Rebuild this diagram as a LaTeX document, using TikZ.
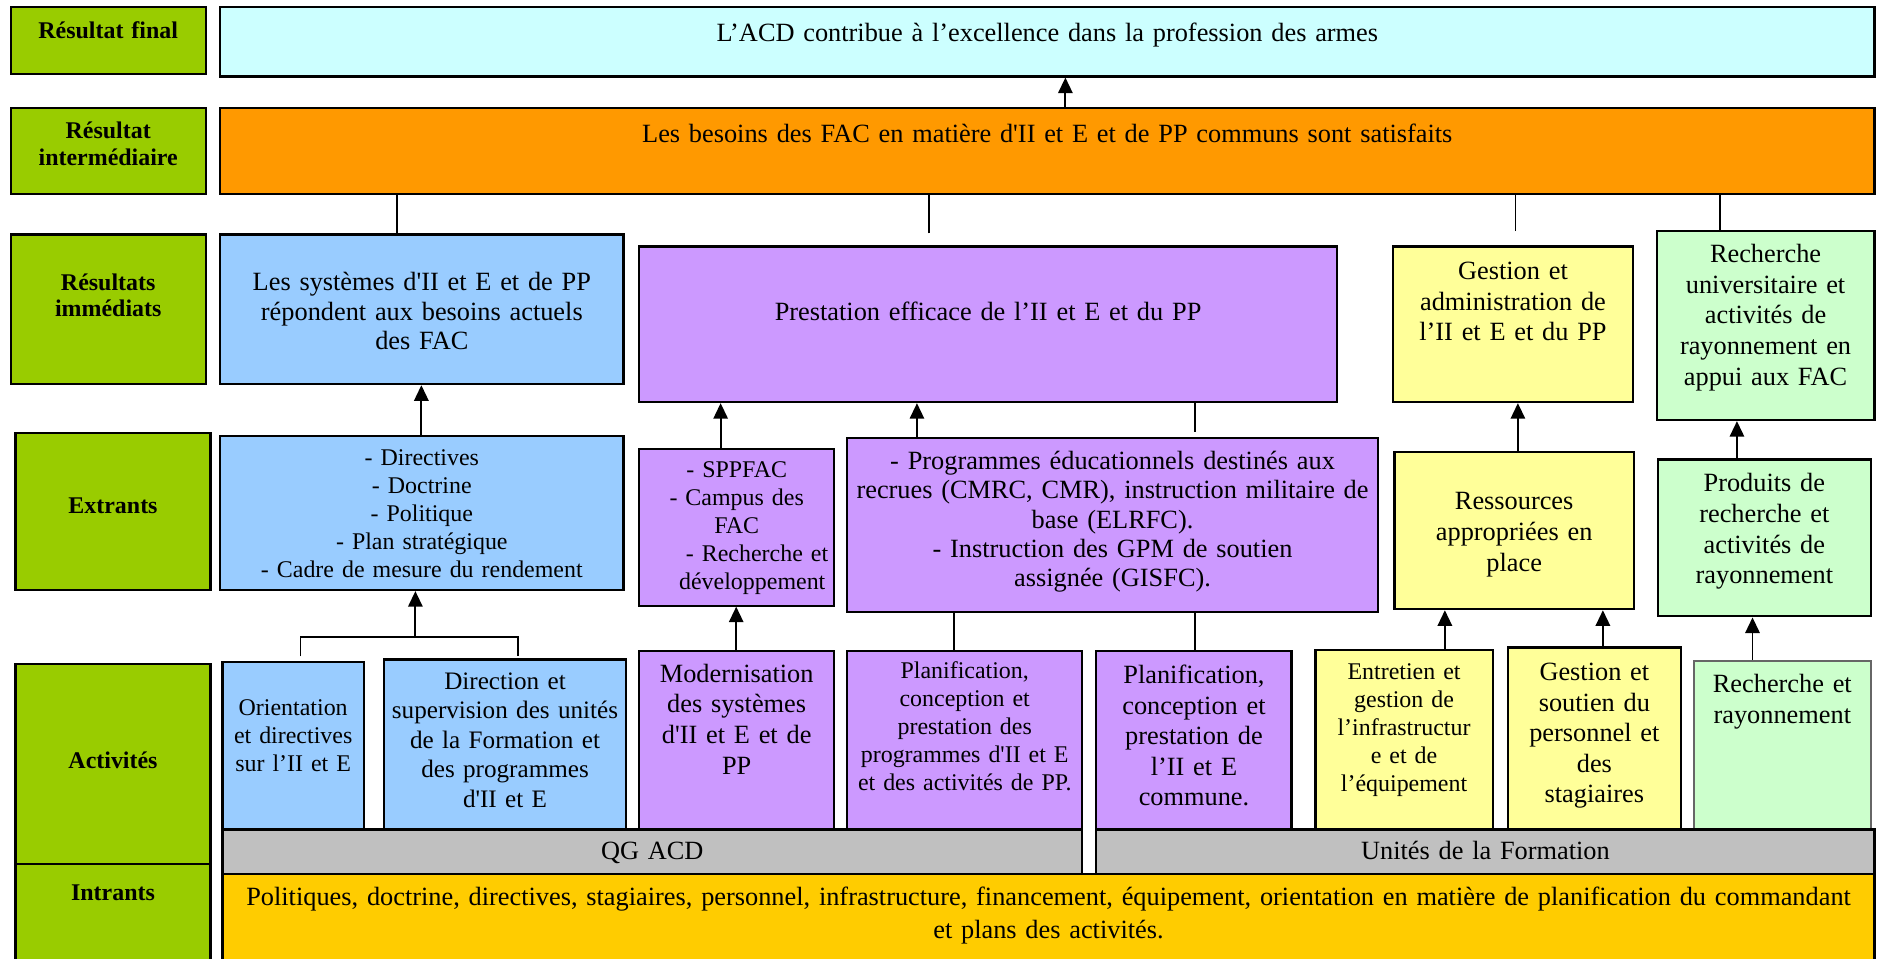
\documentclass[tikz,border=0pt]{standalone}
\usepackage{fontspec}
\setmainfont{Liberation Serif}
\usepackage{xcolor}
\usetikzlibrary{arrows.meta, positioning}

\definecolor{tagcol}{HTML}{99CC00}
\definecolor{finalcol}{HTML}{CCFFFF}
\definecolor{intercol}{HTML}{FF9900}
\definecolor{bluecol}{HTML}{99CCFF}
\definecolor{purplecol}{HTML}{CC99FF}
\definecolor{yellowcol}{HTML}{FFFF99}
\definecolor{greencol}{HTML}{CCFFCC}
\definecolor{barcol}{HTML}{C0C0C0}
\definecolor{inputcol}{HTML}{FFCC00}

\newcommand{\ap}{\textquotesingle}

\begin{document}
\begin{tikzpicture}[x=0.5pt, y=-0.5pt,
    box/.style={
        draw, line width=0.9pt, anchor=north west, inner xsep=0pt, inner ysep=0pt,
        align=center
    },
    tag/.style={box, fill=tagcol, text width=81.5pt, font=\bfseries\fontsize{10}{11}\selectfont},
    bigtxt/.style={font=\fontsize{11}{12.8}\selectfont},
    midtxt/.style={font=\fontsize{11}{12.3}\selectfont},
    smalltxt/.style={font=\fontsize{10}{11.7}\selectfont},
    link/.style={line width=0.8pt},
    arrow/.style={link, -{Triangle[length=6.5pt, width=6pt]}}
]
\useasboundingbox (0,0) rectangle (1568,801);

% Row labels
\node[tag, text height=13pt, text depth=15pt] (tfinal) at (8,5) {Résultat final};
\node[tag, text height=13pt, text depth=23pt] (tinter) at (8,89) {Résultat\\intermédiaire};
\node[tag, text height=23.25pt, text depth=39.25pt] (timm) at (8,195) {Résultats\\immédiats};
\node[tag, text height=33.5pt, text depth=32pt] (text) at (12,361) {Extrants};
\node[tag, text height=43.5pt, text depth=40pt] (tact) at (12,554) {Activités};
\node[tag, text height=15pt, text depth=27pt] (tin) at (12,721) {Intrants};

% Results
\node[box, bigtxt, fill=finalcol, text width=691pt, text height=14.5pt, text depth=14.5pt]
    (final) at (183,5) {L’ACD contribue à l’excellence dans la profession des armes};
\node[box, bigtxt, fill=intercol, text width=691pt, text height=14.5pt, text depth=21.5pt]
    (inter) at (183,89) {Les besoins des FAC en matière d\ap II et E et de PP communs sont satisfaits};

% Immediate results
\node[box, midtxt, fill=bluecol, text width=168.5pt, text height=23.5pt, text depth=39pt]
    (sys) at (183,195) {Les systèmes d\ap II et E et de PP\\répondent aux besoins actuels\\des FAC};
\node[box, bigtxt, fill=purplecol, text width=291.5pt, text height=31pt, text depth=34pt]
    (prest) at (533,205) {Prestation efficace de l’II et E et du PP};
\node[box, bigtxt, fill=yellowcol, text width=100pt, text height=13.75pt, text depth=51.25pt]
    (admin) at (1163,205) {Gestion et\\administration de\\l’II et E et du PP};
\node[box, bigtxt, fill=greencol, text width=91pt, text height=13.25pt, text depth=65.75pt]
    (univ) at (1383,192) {Recherche\\universitaire et\\activités de\\rayonnement en\\appui aux FAC};

% Outputs
\node[box, smalltxt, fill=bluecol, text width=168.5pt, text height=12.5pt, text depth=52pt]
    (dir) at (183,363) {- Directives\\- Doctrine\\- Politique\\- Plan stratégique\\- Cadre de mesure du rendement};
\node[box, smalltxt, fill=purplecol, text width=81.5pt, text height=12pt, text depth=53.5pt]
    (spp) at (533,374) {- SPPFAC\\- Campus des\\FAC\\\hspace*{17pt}- Recherche et\\\hspace*{13pt}développement};
\node[box, midtxt, fill=purplecol, text width=221.5pt, text height=13pt, text depth=59.5pt]
    (prog) at (707,365) {- Programmes éducationnels destinés aux\\recrues (CMRC, CMR), instruction militaire de\\base (ELRFC).\\- Instruction des GPM de soutien\\assignée (GISFC).};
\node[box, bigtxt, fill=yellowcol, text width=100pt, text height=24pt, text depth=41.5pt]
    (res) at (1164,377) {Ressources\\appropriées en\\place};
\node[box, bigtxt, fill=greencol, text width=89pt, text height=13.5pt, text depth=52pt]
    (prod) at (1384,383) {Produits de\\recherche et\\activités de\\rayonnement};

% Activities
\node[box, smalltxt, fill=bluecol, text width=59pt, text height=22.5pt, text depth=47.5pt]
    (orient) at (185,552) {Orientation\\et directives\\sur l’II et E};
\node[box, font=\fontsize{10.5}{12.3}\selectfont, fill=bluecol, text width=101pt, text height=12.5pt, text depth=58.5pt]
    (superv) at (320,550) {Direction et\\supervision des unités\\de la Formation et\\des programmes\\d\ap II et E};
\node[box, bigtxt, fill=purplecol, text width=81.5pt, text height=13pt, text depth=61.5pt]
    (modern) at (533,543) {Modernisation\\des systèmes\\d\ap II et E et de\\PP};
\node[box, smalltxt, fill=purplecol, text width=98pt, text height=11.25pt, text depth=63.25pt]
    (planA) at (707,543) {Planification,\\conception et\\prestation des\\programmes d\ap II et E\\et des activités de PP.};
\node[box, bigtxt, fill=purplecol, text width=81.5pt, text height=13.5pt, text depth=61pt]
    (planB) at (915,543) {Planification,\\conception et\\prestation de\\l’II et E\\commune.};
\node[box, smalltxt, fill=yellowcol, text width=74pt, text height=12.5pt, text depth=62.5pt]
    (infra) at (1098,542) {Entretien et\\gestion de\\l’infrastructur\\e et de\\l’équipement};
\node[box, bigtxt, fill=yellowcol, text width=72pt, text height=13.75pt, text depth=62.25pt]
    (staff) at (1259,540) {Gestion et\\soutien du\\personnel et\\des\\stagiaires};
\node[box, bigtxt, fill=greencol, draw=black!60, text width=74pt, text height=13.25pt, text depth=57.25pt]
    (rech) at (1414,551) {Recherche et\\rayonnement};

% Units and inputs
\node[box, bigtxt, fill=barcol, text width=359pt, text height=12.75pt, text depth=5.75pt]
    (qg) at (185,692) {QG ACD};
\node[box, bigtxt, fill=barcol, text width=325pt, text height=12.75pt, text depth=5.75pt]
    (units) at (915,692) {Unités de la Formation};
\node[box, font=\fontsize{11}{13.9}\selectfont, fill=inputcol, text width=690pt, text height=13.25pt, text depth=24.75pt]
    (inputs) at (185,729) {Politiques, doctrine, directives, stagiaires, personnel, infrastructure, financement, équipement, orientation en matière de planification du commandant\\et plans des activités.};

% Links up to the final result
\draw[arrow] (890,0 |- inter.north) -- (890,0 |- final.south);
\draw[link] (332,0 |- sys.north) -- (332,0 |- inter.south);
\draw[link, shorten <=5pt] (776,0 |- prest.north) -- (776,0 |- inter.south);
\draw[link, shorten <=6pt] (1266,0 |- admin.north) -- (1266,0 |- inter.south);
\draw[link] (1437,0 |- univ.north) -- (1437,0 |- inter.south);

% Outputs to immediate results
\draw[arrow] (352,0 |- dir.north) -- (352,0 |- sys.south);
\draw[arrow] (602,0 |- spp.north) -- (602,0 |- prest.south);
\draw[arrow] (766,0 |- prog.north) -- (766,0 |- prest.south);
\draw[link, shorten >=2pt] (998,0 |- prest.south) -- (998,0 |- prog.north);
\draw[arrow] (1268,0 |- res.north) -- (1268,0 |- admin.south);
\draw[arrow] (1451,0 |- prod.north) -- (1451,0 |- univ.south);

% Activities to outputs
\coordinate (fork) at (347,532);
\draw[link, shorten <=1.8pt, shorten >=1pt] (251,0 |- orient.north) |- (fork) -| (433,0 |- superv.north);
\draw[arrow] (fork) -- (fork |- dir.south);
\draw[arrow] (615,0 |- modern.north) -- (615,0 |- spp.south);
\draw[link] (797,0 |- planA.north) -- (797,0 |- prog.south);
\draw[link] (998,0 |- planB.north) -- (998,0 |- prog.south);
\draw[arrow] (1207,0 |- infra.north) -- (1207,0 |- res.south);
\draw[arrow] (1339,0 |- staff.north) -- (1339,0 |- res.south);
\draw[arrow] (1464,0 |- rech.north) -- (1464,0 |- prod.south);

\end{tikzpicture}
\end{document}
